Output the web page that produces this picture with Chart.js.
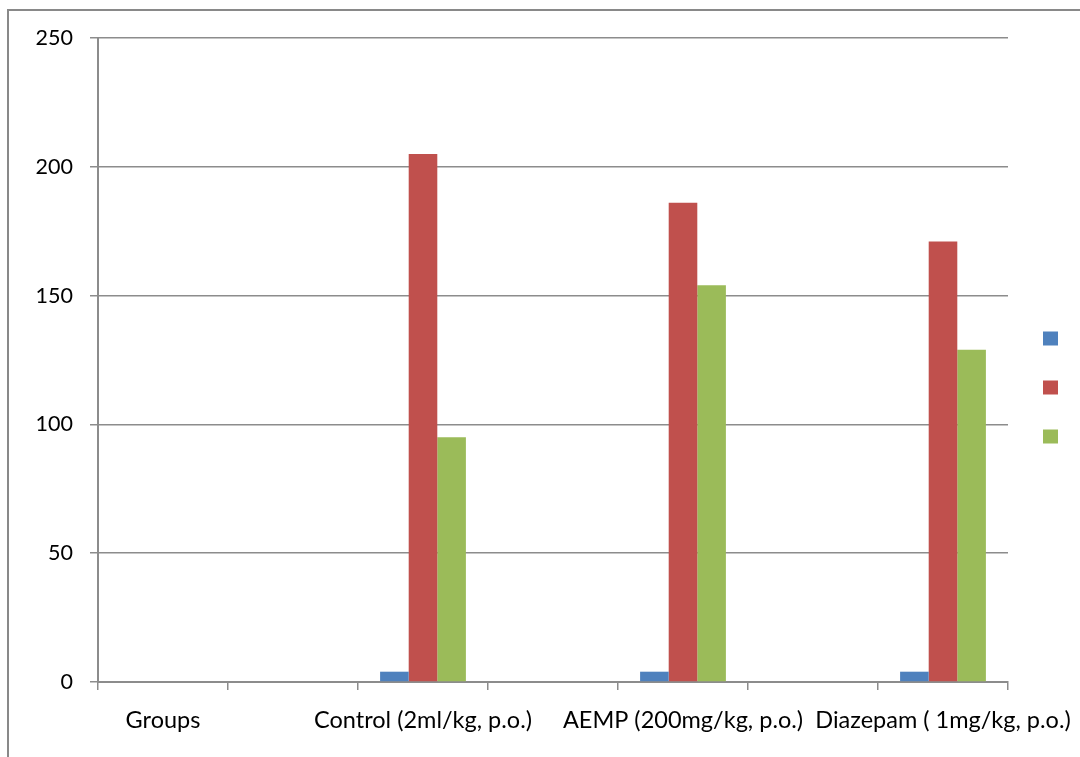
<!DOCTYPE html>
<html>
<head>
<meta charset="utf-8">
<script src="https://cdn.jsdelivr.net/npm/chart.js@4/dist/chart.umd.min.js"></script>
<style>
  html, body { margin: 0; padding: 0; background: #ffffff; }
  #wrap { position: relative; width: 1080px; height: 757px; overflow: hidden; }
  #frame { position: absolute; left: 7px; top: 9px; width: 1200px; height: 900px;
           border-left: 2px solid #898989; border-top: 2px solid #898989; }
  #chart { position: absolute; left: 0; top: 0; }
</style>
</head>
<body>
<div id="wrap">
  <div id="frame"></div>
  <canvas id="chart" width="1080" height="757"></canvas>
</div>
<script>
// Category axis: group names sit on every other slot, blank slots between them
const categories = ['Groups', '', 'Control (2ml/kg, p.o.)', '', 'AEMP (200mg/kg, p.o.)', '', 'Diazepam ( 1mg/kg, p.o.)'];

// Three series per group (series names are blank in the legend)
const seriesNames = ['', '', ''];
const seriesA = [null, null, 4, null, 4, null, 4];
const seriesB = [null, null, 205, null, 186, null, 171];
const seriesC = [null, null, 95, null, 154, null, 129];

const yTicks = [0, 50, 100, 150, 200, 250];

const colors = ['#4F81BD', '#C0504D', '#9BBB59'];
const gridColor = '#8c8c8c';
const fontFamily = 'Lato, "Open Sans", sans-serif';

new Chart(document.getElementById('chart'), {
  type: 'bar',
  data: {
    labels: categories,
    datasets: [seriesA, seriesB, seriesC].map((values, i) => ({
      label: seriesNames[i],
      data: values,
      backgroundColor: colors[i],
      borderWidth: 0,
      categoryPercentage: 0.66,
      barPercentage: 1.0
    }))
  },
  options: {
    responsive: false,
    animation: false,
    devicePixelRatio: 1,
    layout: { padding: { left: 0, top: 38, right: 7, bottom: 20 } },
    plugins: {
      tooltip: { enabled: false },
      legend: {
        position: 'right',
        align: 'center',
        labels: {
          boxWidth: 15,
          boxHeight: 14,
          padding: 35,
          font: { family: fontFamily, size: 10 },
          color: '#000'
        }
      }
    },
    scales: {
      x: {
        offset: true,
        grid: {
          offset: true,
          drawOnChartArea: false,
          drawTicks: true,
          tickLength: 8,
          color: gridColor,
          lineWidth: 1.5
        },
        border: { color: gridColor, width: 2 },
        ticks: {
          autoSkip: false,
          maxRotation: 0,
          minRotation: 0,
          padding: 16,
          color: '#000',
          font: { family: fontFamily, size: 23.5 }
        },
        afterFit: (scale) => {
          scale.height = 55;
          // the last label may run past the plot edge, as the axis allows
          scale.paddingLeft = 0;
          scale.paddingRight = 0;
        }
      },
      y: {
        min: 0,
        max: 250,
        afterBuildTicks: (scale) => { scale.ticks = yTicks.map(v => ({ value: v })); },
        grid: {
          color: gridColor,
          lineWidth: 1.5,
          drawTicks: true,
          tickLength: 8
        },
        border: { color: gridColor, width: 2 },
        ticks: {
          padding: 17,
          color: '#000',
          font: { family: fontFamily, size: 21.5 }
        },
        afterFit: (scale) => { scale.width = 98; }
      }
    }
  }
});
</script>
</body>
</html>
